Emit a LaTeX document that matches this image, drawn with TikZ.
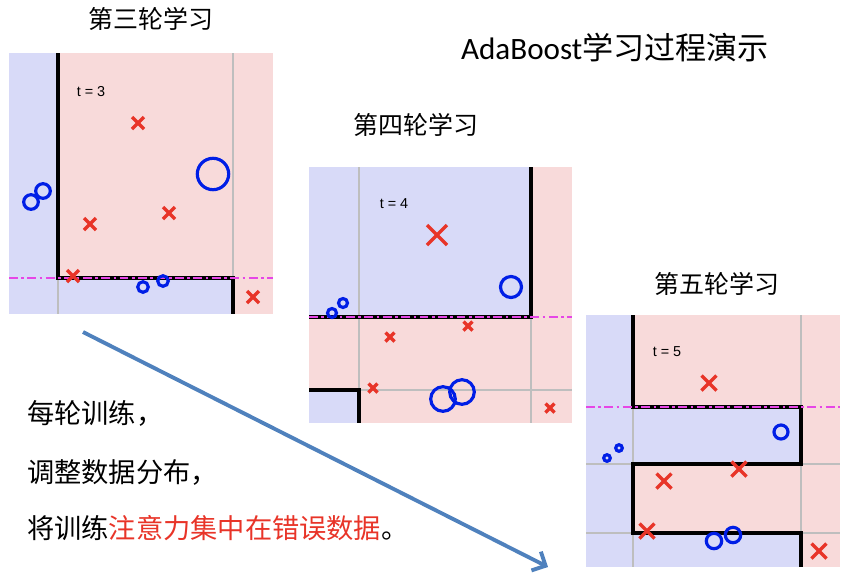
\documentclass[tikz,border=0pt]{standalone}
\usepackage{fontspec}
\setmainfont{Carlito}
\newfontfamily\cjk{Noto Sans CJK SC}
\newfontfamily\helv{Liberation Sans}
\usetikzlibrary{arrows.meta}
\definecolor{bluebg}{RGB}{216,218,248}
\definecolor{pinkbg}{RGB}{248,218,218}
\definecolor{gridgrey}{RGB}{190,190,190}
\definecolor{crossred}{RGB}{232,52,40}
\definecolor{ringblue}{RGB}{0,30,230}
\definecolor{dashmag}{RGB}{230,70,230}
\definecolor{arrowblue}{RGB}{79,129,189}
\begin{document}
\begin{tikzpicture}[x=0.02cm,y=-0.02cm,
 gridline/.style={gridgrey,line width=0.9pt},
 boundary/.style={black,line width=2.1pt},
 split/.style={dashmag,line width=1.2pt,dash pattern=on 5pt off 2pt on 1.5pt off 2pt},
 xmark/.style={crossred,line width=2pt},
 ring/.style={ringblue,line width=1.8pt},
 tlabel/.style={font=\helv\fontsize{8.2}{9}\selectfont},
 roundtitle/.style={font=\cjk\fontsize{14.2}{16}\selectfont},
 bodytext/.style={anchor=west,font=\cjk\fontsize{15.5}{18}\selectfont}]
\useasboundingbox (0,0) rectangle (850,583);
% round 3
\fill[bluebg] (9,53) rectangle (273,314);
\fill[pinkbg] (58,53) rectangle (273,278);
\fill[pinkbg] (233,278) rectangle (273,314);
\draw[gridline] (233,53)--(233,314) (58,278)--(58,314);
\draw[boundary] (58,53)--(58,278)--(233,278)--(233,314);
\draw[split] (9,278)--(273,278);
\foreach \x/\y in {138/123,169/213,90/224,73/276,253/297}
  \draw[xmark] (\x-6,\y-6)--(\x+6,\y+6) (\x-6,\y+6)--(\x+6,\y-6);
\foreach \x/\y/\r in {213/174/15.7,31/202/7.3,43/191/7.3,143/287/5.3,163/281/5.3}
  \draw[ring] (\x,\y) circle (\r);
\node[tlabel] (t3) at (91,92) {t = 3};
\node[roundtitle] (title3) at (151,19) {第三轮学习};
% round 4
\fill[bluebg] (309,167) rectangle (531,317);
\fill[pinkbg] (531,167) rectangle (572,423);
\fill[pinkbg] (309,317) rectangle (531,423);
\fill[bluebg] (309,390) rectangle (359,423);
\draw[gridline] (359,167)--(359,423) (531,317)--(531,423) (359,390)--(572,390);
\draw[boundary] (309,317)--(531,317)--(531,167) (309,390)--(359,390)--(359,423);
\draw[split] (309,317)--(572,317);
\foreach \x/\y/\s in {437/235/10,468/326/4.5,390/337/4.5,373/388/4.5,550/408/4.5}
  \draw[xmark] (\x-\s,\y-\s)--(\x+\s,\y+\s) (\x-\s,\y+\s)--(\x+\s,\y-\s);
\foreach \x/\y/\r in {511/287/10.5,332/313/4.5,343/303/4.5,443/399/12.3,462/392/12.3}
  \draw[ring] (\x,\y) circle (\r);
\node[tlabel] (t4) at (394,204) {t = 4};
\node[roundtitle] (title4) at (416,125) {第四轮学习};
% round 5
\fill[bluebg] (586,315) rectangle (840,567);
\fill[pinkbg] (801,315) rectangle (840,567);
\fill[pinkbg] (633,315) rectangle (801,407);
\fill[pinkbg] (633,464) rectangle (801,533);
\draw[gridline] (633,315)--(633,567) (801,315)--(801,567) (586,464)--(840,464) (586,533)--(840,533);
\draw[boundary] (633,315)--(633,407)--(801,407)--(801,464)--(633,464)--(633,533)--(801,533)--(801,567);
\draw[split] (586,407)--(840,407);
\foreach \x/\y in {709/383,739/469,664/481,647/531,819/551}
  \draw[xmark] (\x-7.5,\y-7.5)--(\x+7.5,\y+7.5) (\x-7.5,\y+7.5)--(\x+7.5,\y-7.5);
\foreach \x/\y/\r in {781/432/7,607/458/3.3,619/448/3.3,714/541/7.7,733/535/7.7}
  \draw[ring] (\x,\y) circle (\r);
\node[tlabel] (t5) at (667,352) {t = 5};
\node[roundtitle] (title5) at (717,284) {第五轮学习};
% heading and notes
\node[font=\fontsize{17.7}{20}\selectfont] (heading) at (615,48) {AdaBoost{\cjk 学习过程演示}};
\node[bodytext] (line1) at (21,413) {每轮训练，};
\node[bodytext] (line2) at (21,472) {调整数据分布，};
\node[bodytext] (line3) at (21,528) {将训练{\color{crossred}注意力集中在错误数据}。};
\coordinate (from) at (83,332);
\coordinate (to) at (548,567);
\draw[arrowblue,line width=2.2pt,-{Straight Barb[length=6pt,width=12pt]}] (from)--(to);
\end{tikzpicture}
\end{document}
